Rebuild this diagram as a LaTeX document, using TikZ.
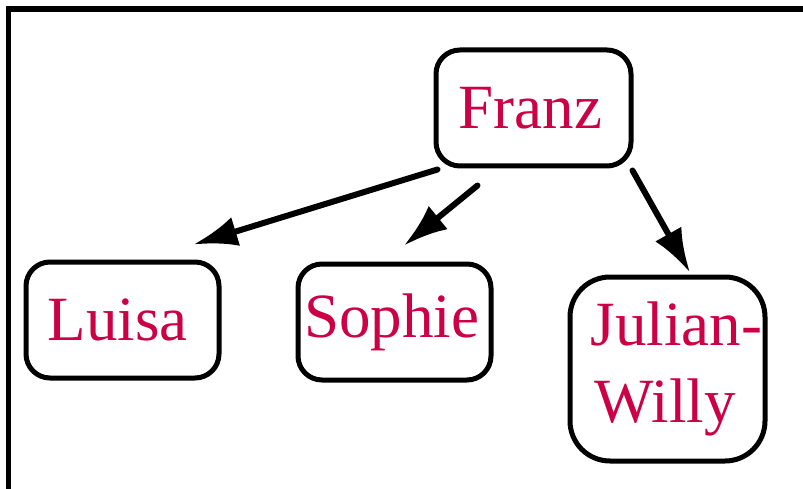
\documentclass[tikz,border=0pt]{standalone}
\usepackage{fontspec}
\setmainfont{Liberation Serif}
\usetikzlibrary{arrows.meta,calc}
\definecolor{namecol}{RGB}{204,0,68}
\tikzset{
  person/.style={draw=black, line width=5pt, rounded corners=24pt, fill=white,
    text=namecol, font=\fontsize{63}{73}\selectfont, inner sep=0pt, align=center},
  arr/.style={line width=6pt, line cap=round, -{Latex[length=44pt,width=30pt]}}
}
\begin{document}
\begin{tikzpicture}[x=1pt,y=-1pt]
\useasboundingbox (0,0) rectangle (803,489);
\fill[white] (0,0) rectangle (803,489);
\draw[line width=5.5pt] (8.5,495) -- (8.5,9) -- (810,9);
\node[person, minimum width=195pt, minimum height=116pt] (franz) at (533.5,108) {Franz\hspace{6pt}};
\node[person, minimum width=193pt, minimum height=116pt] (luisa) at (122.5,320) {Luisa\hspace{10pt}};
\node[person, minimum width=193pt, minimum height=116pt] (sophie) at (394.5,322) {Sophie\hspace{6pt}};
\node[person, rounded corners=40pt, minimum width=195pt, minimum height=184pt, align=left] (julian) at (667.5,369) {\hspace{18pt}Julian-\\[4pt]\hspace{22pt}Willy\hspace{22pt}};
\draw[arr] ($(franz.south west)+(4,1)$) -- ($(luisa.north east)+(-28,-15)$);
\draw[arr] ($(franz.south west)+(44,17)$) -- ($(sophie.north)+(9.5,-16)$);
\draw[arr] ($(franz.south east)+(-1,2)$) -- ($(julian.north)+(22.5,-2)$);
\end{tikzpicture}
\end{document}
